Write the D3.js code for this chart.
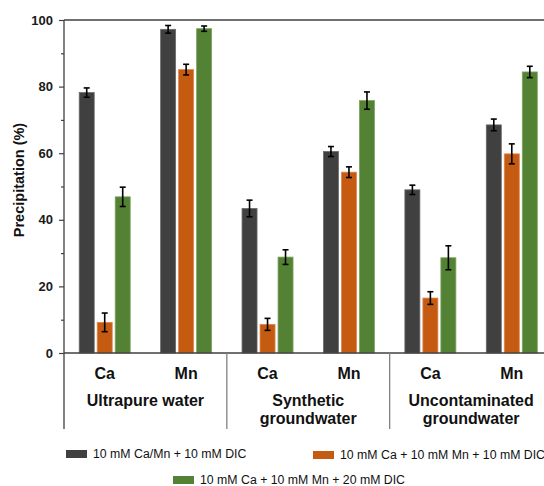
<!DOCTYPE html>
<html>
<head>
<meta charset="utf-8">
<script src="https://cdn.jsdelivr.net/npm/d3@7"></script>
<style>
  html, body { margin: 0; padding: 0; background: #ffffff; }
  svg { display: block; font-family: Arial, "Liberation Sans", sans-serif; }
</style>
</head>
<body>
<svg id="chart" width="544" height="486"></svg>
<script>
// ---- data ----
const categories = ["Ca", "Mn", "Ca", "Mn", "Ca", "Mn"];
const groups = [["Ultrapure water"], ["Synthetic", "groundwater"], ["Uncontaminated", "groundwater"]];
const seriesNames = [
  "10 mM Ca/Mn + 10 mM DIC",
  "10 mM Ca + 10 mM Mn + 10 mM DIC",
  "10 mM Ca + 10 mM Mn + 20 mM DIC"
];
const seriesColors = ["#404040", "#c55a11", "#548235"];
const seriesStroke = ["#6a6a6a", "#dc8650", "#7ea263"];
const values1 = [78.2, 97.2, 43.4, 60.5, 49.0, 68.5];
const errors1 = [1.4, 1.15, 2.5, 1.5, 1.4, 1.75];
const values2 = [9.2, 85.1, 8.6, 54.3, 16.5, 59.8];
const errors2 = [2.8, 1.6, 1.8, 1.6, 1.9, 3.0];
const values3 = [46.9, 97.4, 28.8, 75.8, 28.6, 84.4];
const errors3 = [2.9, 0.8, 2.2, 2.6, 3.6, 1.7];
const yTicks = [0, 20, 40, 60, 80, 100];
const yMinorTicks = [10, 30, 50, 70, 90];
const yTitle = "Precipitation (%)";

const seriesValues = [values1, values2, values3];
const seriesErrors = [errors1, errors2, errors3];

// ---- layout ----
const svg = d3.select("#chart");
const plotLeft = 64, plotRight = 552.5, plotTop = 20, plotBottom = 353, axisBottomExt = 429;
const axisColor = "#404040";

const x0 = d3.scaleBand().domain(d3.range(categories.length)).range([plotLeft, plotRight]).padding(0);
const bw0 = x0.bandwidth();
const x1 = d3.scaleBand().domain(d3.range(3))
  .range([bw0 / 2 - 25.5, bw0 / 2 + 25.5]).paddingInner(1 / 6).paddingOuter(0);
const y = d3.scaleLinear().domain([0, 100]).range([plotBottom, plotTop]);

// bars
const barData = [];
categories.forEach((c, i) => {
  for (let s = 0; s < 3; s++) {
    barData.push({ i, s, v: seriesValues[s][i], e: seriesErrors[s][i] });
  }
});

svg.append("g").selectAll("rect").data(barData).join("rect")
  .attr("x", d => x0(d.i) + x1(d.s))
  .attr("y", d => y(d.v))
  .attr("width", x1.bandwidth())
  .attr("height", d => y(0) - y(d.v))
  .attr("fill", d => seriesColors[d.s])
  .attr("stroke", d => seriesStroke[d.s])
  .attr("stroke-width", 0.8);

// error bars
const eb = svg.append("g").attr("stroke", "#000").attr("stroke-width", 1.6);
barData.forEach(d => {
  const cx = x0(d.i) + x1(d.s) + x1.bandwidth() / 2;
  const y1 = y(d.v + d.e), y2 = y(d.v - d.e);
  eb.append("line").attr("x1", cx).attr("x2", cx).attr("y1", y1).attr("y2", y2);
  eb.append("line").attr("x1", cx - 3).attr("x2", cx + 3).attr("y1", y1).attr("y2", y1);
  eb.append("line").attr("x1", cx - 3).attr("x2", cx + 3).attr("y1", y2).attr("y2", y2);
});

// y axis
const yAxis = d3.axisLeft(y).tickValues(yTicks).tickSize(5).tickPadding(6).tickFormat(d3.format("d"));
const gy = svg.append("g").attr("transform", `translate(${plotLeft},0)`).call(yAxis);
gy.select(".domain").remove();
gy.selectAll(".tick line").attr("stroke", axisColor).attr("stroke-width", 1.2);
gy.selectAll(".tick text").attr("font-size", 13).attr("font-weight", "bold").attr("fill", "#1a1a1a")
  .attr("font-family", "Arial, 'Liberation Sans', sans-serif");
const yMinor = d3.axisLeft(y).tickValues(yMinorTicks).tickSize(3).tickFormat("");
const gym = svg.append("g").attr("transform", `translate(${plotLeft},0)`).call(yMinor);
gym.select(".domain").remove();
gym.selectAll(".tick line").attr("stroke", axisColor).attr("stroke-width", 1.2);

// axis lines and frame
svg.append("line").attr("x1", plotLeft).attr("x2", plotLeft).attr("y1", plotTop).attr("y2", axisBottomExt)
  .attr("stroke", axisColor).attr("stroke-width", 1.3);
svg.append("line").attr("x1", plotLeft).attr("x2", plotRight).attr("y1", plotTop).attr("y2", plotTop)
  .attr("stroke", axisColor).attr("stroke-width", 1.3);
svg.append("line").attr("x1", plotLeft).attr("x2", plotRight).attr("y1", plotBottom).attr("y2", plotBottom)
  .attr("stroke", axisColor).attr("stroke-width", 1.3);
// group separators
[2, 4, 6].forEach(k => {
  const sx = plotLeft + k * bw0;
  svg.append("line").attr("x1", sx).attr("x2", sx).attr("y1", plotBottom).attr("y2", axisBottomExt)
    .attr("stroke", "#808080").attr("stroke-width", 1.3);
});

// category labels
svg.append("g").selectAll("text").data(categories).join("text")
  .attr("x", (d, i) => x0(i) + bw0 / 2)
  .attr("y", 378.5)
  .attr("text-anchor", "middle")
  .attr("font-size", 16).attr("font-weight", "bold").attr("fill", "#111")
  .text(d => d);

// group labels
groups.forEach((lines, g) => {
  const cx = plotLeft + (2 * g + 1) * bw0;
  lines.forEach((t, k) => {
    svg.append("text").attr("x", cx).attr("y", 405.5 + k * 18.5)
      .attr("text-anchor", "middle")
      .attr("font-size", 16).attr("font-weight", "bold").attr("fill", "#111")
      .text(t);
  });
});

// y title
svg.append("text")
  .attr("transform", `translate(24,180) rotate(-90)`)
  .attr("text-anchor", "middle")
  .attr("font-size", 14.5).attr("font-weight", "bold").attr("fill", "#111")
  .text(yTitle);

// legend
const legendPos = [[66, 450], [313, 451], [173, 476]];
seriesNames.forEach((name, s) => {
  const [lx, ly] = legendPos[s];
  svg.append("rect").attr("x", lx).attr("y", ly).attr("width", 21).attr("height", 8)
    .attr("fill", seriesColors[s]);
  svg.append("text").attr("x", lx + 27).attr("y", ly + 7.5)
    .attr("font-size", 12.3).attr("fill", "#111")
    .text(name);
});
</script>
</body>
</html>
